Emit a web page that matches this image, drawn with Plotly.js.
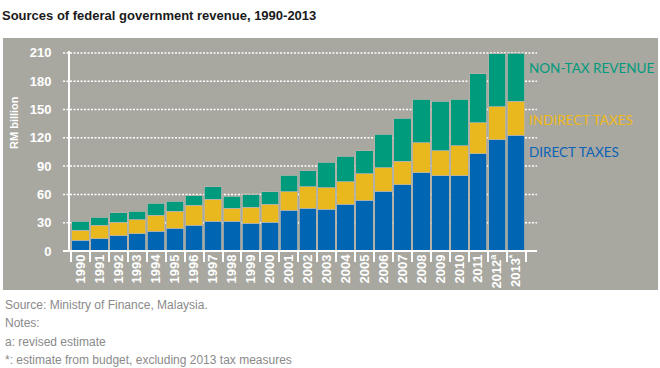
<!DOCTYPE html>
<html>
<head>
<meta charset="utf-8">
<script src="https://cdn.plot.ly/plotly-3.0.1.min.js"></script>
<style>html,body{margin:0;padding:0;background:#fff;}#chart{width:660px;height:368px;}</style>
</head>
<body>
<div id="chart"></div>
<script>
const years = ['1990','1991','1992','1993','1994','1995','1996','1997','1998','1999','2000','2001','2002','2003','2004','2005','2006','2007','2008','2009','2010','2011','2012','2013'];
const tickLabels = ['1990','1991','1992','1993','1994','1995','1996','1997','1998','1999','2000','2001','2002','2003','2004','2005','2006','2007','2008','2009','2010','2011','2012<sup>a</sup>','2013<sup>*</sup>'];
const directTaxes = [11.2,13.0,16.1,18.3,21.1,24.3,27.5,31.4,31.4,29.6,30.6,43.4,45.5,44.5,49.8,53.7,63.6,70.0,83.1,80.0,80.0,103.3,117.8,122.8];
const indirectTaxes = [10.6,14.1,14.2,14.9,17.0,18.0,21.2,23.4,14.1,17.0,19.2,19.2,22.4,22.3,23.4,28.4,24.4,25.2,31.5,26.1,31.4,32.6,35.1,36.2];
const nonTaxRevenue = [9.6,8.5,10.3,9.1,12.4,10.3,10.0,13.1,12.4,12.8,12.8,17.7,17.0,27.3,27.3,24.4,35.5,45.7,46.5,52.9,49.7,51.8,56.0,50.7];
const yTicks = [0,30,60,90,120,150,180,210];
const seriesNames = ['DIRECT TAXES','INDIRECT TAXES','NON-TAX REVENUE'];
const footnotes = ['Source: Ministry of Finance, Malaysia.','Notes:','a: revised estimate','*: estimate from budget, excluding 2013 tax measures'];

const C_BLUE = '#0066b3', C_YEL = '#e9b81e', C_TEAL = '#009a7c';
const xIdx = years.map((_, i) => i);
const barLine = {color: '#b3b3ab', width: 0.8};

const traces = [
  {type:'bar', name:seriesNames[0], x:xIdx, y:directTaxes, marker:{color:C_BLUE, line:barLine}, hoverinfo:'none'},
  {type:'bar', name:seriesNames[1], x:xIdx, y:indirectTaxes, marker:{color:C_YEL, line:barLine}, hoverinfo:'none'},
  {type:'bar', name:seriesNames[2], x:xIdx, y:nonTaxRevenue, marker:{color:C_TEAL, line:barLine}, hoverinfo:'none'}
];

const L = 70, W = 467, T = 51, H = 200;
const px = v => (v - L) / W;
const py = v => (T + H - v) / H;

const shapes = [
  {type:'rect', xref:'paper', yref:'paper', x0:px(3), x1:px(658), y0:py(290), y1:py(38), fillcolor:'#a8a8a0', line:{width:0}, layer:'below'}
];
yTicks.filter(v => v > 0).forEach(v => shapes.push({
  type:'line', xref:'paper', yref:'y', x0:px(63), x1:1, y0:v, y1:v,
  line:{color:'#ffffff', width:1.5, dash:'2px,1.5px'}, layer:'below'
}));
shapes.push({type:'line', xref:'paper', yref:'paper', x0:px(63), x1:1, y0:0, y1:0, line:{color:'#ffffff', width:2}, layer:'above'});

const annotations = [
  {xref:'paper', yref:'paper', x:px(0), y:py(15), xanchor:'left', yanchor:'middle', showarrow:false,
   text:'<b>Sources of federal government revenue, 1990-2013</b>', font:{family:'Liberation Sans, Arial', size:13, color:'#1a1a1a'}},
  {xref:'paper', yref:'paper', x:px(14), y:py(123), xanchor:'center', yanchor:'middle', showarrow:false, textangle:-90,
   text:'<b>RM billion</b>', font:{family:'Liberation Sans, Arial', size:11, color:'#ffffff'}},
  {xref:'paper', yref:'paper', x:px(527), y:py(67.5), xanchor:'left', yanchor:'middle', showarrow:false,
   text:seriesNames[2], font:{family:'Lato, sans-serif', size:13.5, color:C_TEAL}},
  {xref:'paper', yref:'paper', x:px(527), y:py(120), xanchor:'left', yanchor:'middle', showarrow:false,
   text:seriesNames[1], font:{family:'Lato, sans-serif', size:13.5, color:'#f0b81a'}},
  {xref:'paper', yref:'paper', x:px(527), y:py(151.7), xanchor:'left', yanchor:'middle', showarrow:false,
   text:seriesNames[0], font:{family:'Lato, sans-serif', size:13.5, color:'#0a62b8'}}
];
const footY = [305, 323, 341.5, 360];
footnotes.forEach((t, i) => annotations.push({
  xref:'paper', yref:'paper', x:px(3), y:py(footY[i]), xanchor:'left', yanchor:'middle', showarrow:false,
  text:t, font:{family:'Liberation Sans, Arial', size:12, color:'#8a8a8a'}
}));

const boundaries = xIdx.concat([years.length]).map(i => i - 0.5);

const layout = {
  width:660, height:368,
  margin:{l:L, r:660 - L - W, t:T, b:368 - T - H, pad:0},
  paper_bgcolor:'#ffffff', plot_bgcolor:'rgba(0,0,0,0)',
  barmode:'stack', bargap:0.08, showlegend:false,
  xaxis:{
    type:'linear', range:[-0.55, 24.1], tickmode:'array', tickvals:xIdx, ticktext:tickLabels,
    tickangle:-90, ticks:'', showgrid:false, zeroline:false, showline:false, fixedrange:true,
    tickfont:{family:'Liberation Sans, Arial', size:13, color:'#ffffff', weight:'bold'},
    minor:{tickmode:'array', tickvals:boundaries, ticks:'outside', ticklen:10, tickwidth:2, tickcolor:'#ffffff', showgrid:false}
  },
  yaxis:{
    range:[0, 212], tickmode:'array', tickvals:yTicks, ticks:'', showgrid:false, zeroline:false,
    showline:true, linecolor:'#ffffff', linewidth:2, ticklabelstandoff:14, fixedrange:true,
    tickfont:{family:'Liberation Sans, Arial', size:13, color:'#ffffff', weight:'bold'}
  },
  shapes:shapes, annotations:annotations
};

Plotly.newPlot('chart', traces, layout, {displayModeBar:false, staticPlot:true});
</script>
</body>
</html>
